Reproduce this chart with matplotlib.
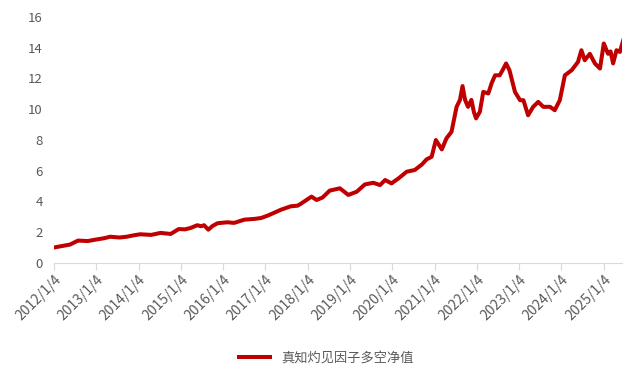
import matplotlib.pyplot as plt
import numpy as np

plt.rcParams["font.family"] = ["Noto Sans CJK SC", "DejaVu Sans"]

# decimal year vs net value
years = [
    2012.00, 2012.20, 2012.38, 2012.57, 2012.80, 2013.00, 2013.18, 2013.33, 2013.55, 2013.72,
    2013.90, 2014.04, 2014.30, 2014.52, 2014.76, 2014.95, 2015.10, 2015.23, 2015.39, 2015.48,
    2015.55, 2015.65, 2015.75, 2015.87, 2016.10, 2016.26, 2016.50, 2016.74, 2016.90, 2017.05,
    2017.20, 2017.37, 2017.60, 2017.76, 2017.84, 2018.09, 2018.21, 2018.35, 2018.52, 2018.76,
    2018.96, 2019.16, 2019.35, 2019.55, 2019.71, 2019.83, 2019.98, 2020.15, 2020.34, 2020.53,
    2020.70, 2020.81, 2020.93, 2021.03, 2021.17, 2021.28, 2021.40, 2021.52, 2021.60, 2021.66,
    2021.72, 2021.79, 2021.87, 2021.93, 2021.98, 2022.07, 2022.15, 2022.27, 2022.35, 2022.43,
    2022.54, 2022.62, 2022.69, 2022.77, 2022.90, 2023.02, 2023.10, 2023.21, 2023.33, 2023.45,
    2023.57, 2023.73, 2023.84, 2023.96, 2024.08, 2024.24, 2024.39, 2024.47, 2024.55, 2024.67,
    2024.79, 2024.91, 2025.00, 2025.10, 2025.16, 2025.22, 2025.30, 2025.38, 2025.46,
]
values = [
    1.00, 1.10, 1.19, 1.45, 1.42, 1.52, 1.60, 1.70, 1.65, 1.70,
    1.80, 1.86, 1.82, 1.95, 1.88, 2.20, 2.18, 2.27, 2.45, 2.38,
    2.45, 2.16, 2.40, 2.58, 2.64, 2.60, 2.81, 2.86, 2.92, 3.07,
    3.25, 3.46, 3.68, 3.72, 3.85, 4.31, 4.09, 4.25, 4.70, 4.85,
    4.42, 4.63, 5.10, 5.21, 5.06, 5.39, 5.17, 5.50, 5.93, 6.04,
    6.40, 6.73, 6.90, 7.99, 7.38, 8.10, 8.53, 10.15, 10.60, 11.50,
    10.60, 10.15, 10.60, 9.80, 9.40, 9.83, 11.12, 11.02, 11.70, 12.20,
    12.20, 12.60, 12.97, 12.53, 11.12, 10.58, 10.58, 9.60, 10.15, 10.47,
    10.15, 10.15, 9.93, 10.58, 12.20, 12.53, 13.07, 13.83, 13.18, 13.60,
    12.97, 12.64, 14.27, 13.60, 13.75, 12.97, 13.83, 13.72, 14.48,
]
tick_years = list(range(2012, 2026))
tick_labels = [f"{y}/1/4" for y in tick_years]
series_name = "真知灼见因子多空净值"

fig = plt.figure(figsize=(6.27, 3.75), dpi=100)
ax = fig.add_axes([0.086, 0.299, 0.906, 0.656])

ax.plot(years, values, color="#C00000", linewidth=2.9, label=series_name)

ax.set_xlim(2012.0, 2025.43)
ax.set_ylim(0, 16)
ax.set_yticks(np.arange(0, 17, 2))
ax.set_xticks(tick_years)
ax.set_xticklabels(tick_labels, rotation=45, ha="right", rotation_mode="anchor")

for s in ["top", "right", "left"]:
    ax.spines[s].set_visible(False)
ax.spines["bottom"].set_color("#D9D9D9")
ax.tick_params(axis="y", length=0, labelsize=9.5, labelcolor="#595959", pad=8)
ax.tick_params(axis="x", length=5, color="#D9D9D9", labelsize=10, labelcolor="#595959", pad=2)

fig.legend(loc="lower center", bbox_to_anchor=(0.52, -0.005), frameon=False,
           fontsize=9.5, labelcolor="#595959", handlelength=2.4)

fig.savefig("out.png", dpi=100)
